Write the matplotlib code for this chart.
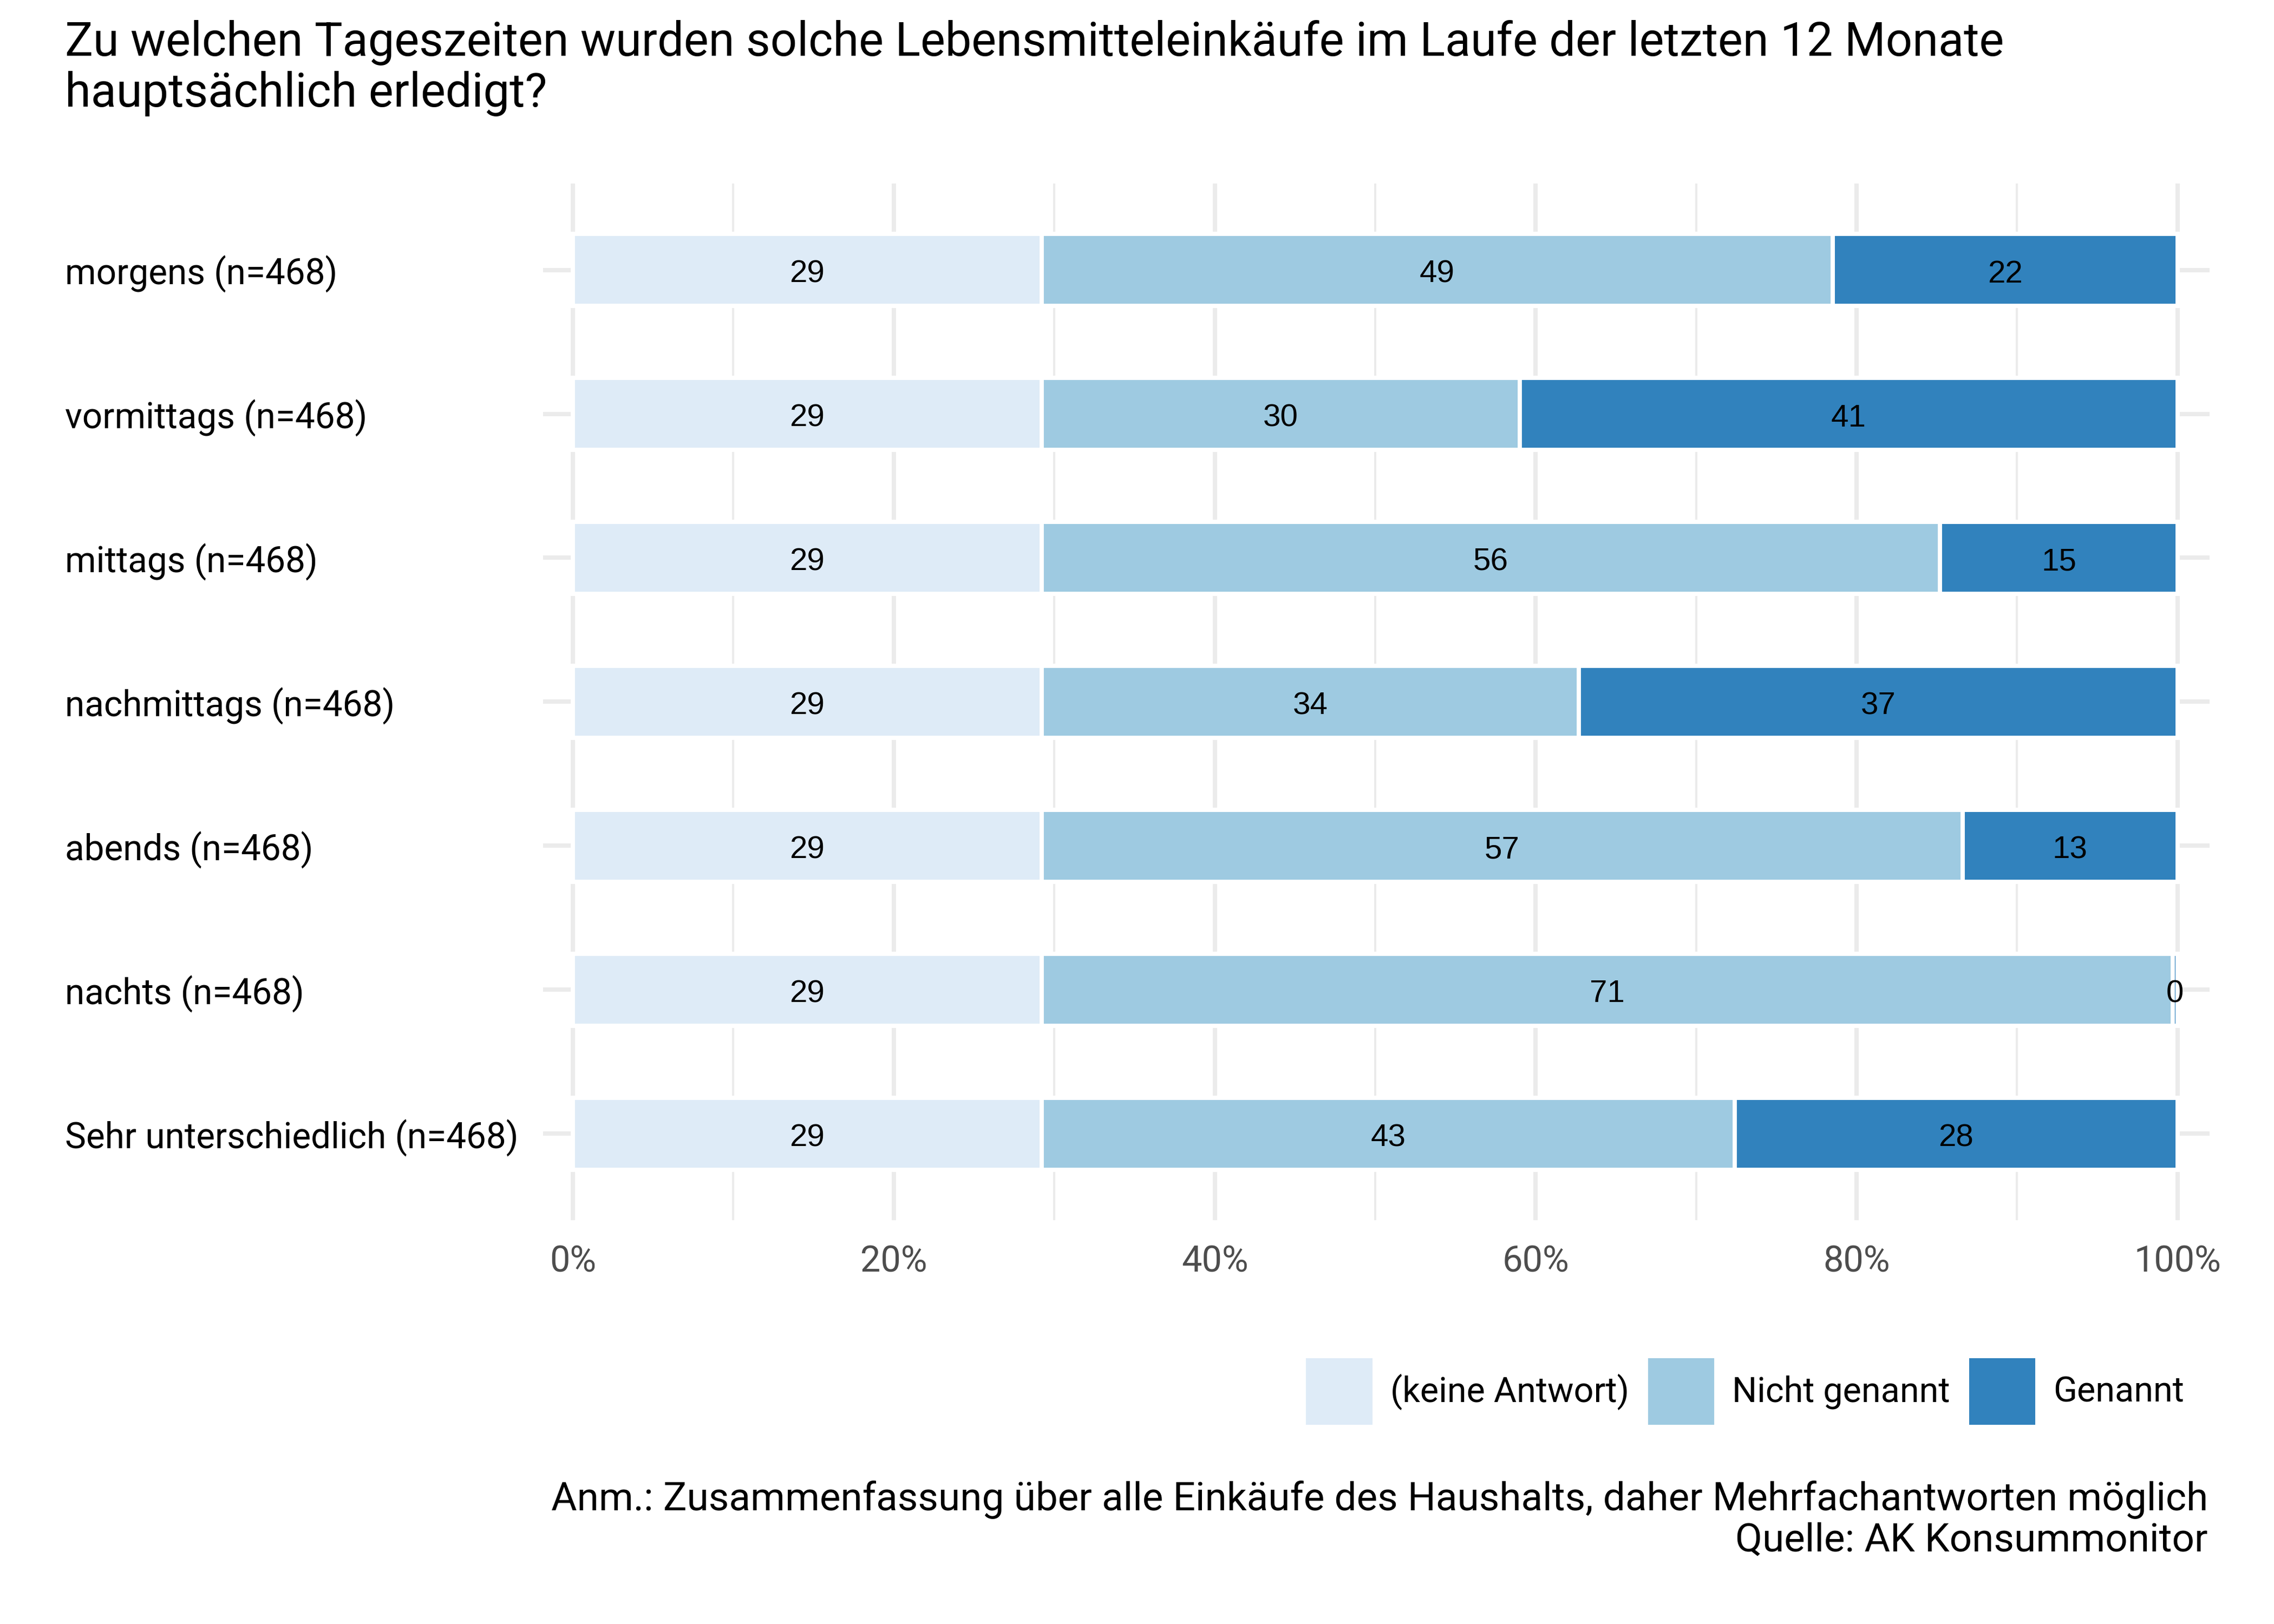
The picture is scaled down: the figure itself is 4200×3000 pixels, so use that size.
import matplotlib
matplotlib.use('Agg')
import matplotlib.pyplot as plt
from matplotlib.patches import Patch

categories = ['morgens (n=468)', 'vormittags (n=468)', 'mittags (n=468)', 'nachmittags (n=468)',
              'abends (n=468)', 'nachts (n=468)', 'Sehr unterschiedlich (n=468)']
keine_antwort = [29.2, 29.2, 29.2, 29.2, 29.2, 29.2, 29.2]
nicht_genannt = [49.3, 29.8, 56.0, 33.5, 57.4, 70.5, 43.2]
genannt = [21.5, 41.0, 14.8, 37.3, 13.4, 0.3, 27.6]
series_names = ['(keine Antwort)', 'Nicht genannt', 'Genannt']
colors = ['#DEEBF7', '#9ECAE1', '#3182BD']
x_ticks = [0, 20, 40, 60, 80, 100]
x_minor = [10, 30, 50, 70, 90]
x_tick_labels = ['0%', '20%', '40%', '60%', '80%', '100%']

title = ('Zu welchen Tageszeiten wurden solche Lebensmitteleinkäufe im Laufe der letzten 12 Monate\n'
         'hauptsächlich erledigt?')
caption = ('Anm.: Zusammenfassung über alle Einkäufe des Haushalts, daher Mehrfachantworten möglich\n'
           'Quelle: AK Konsummonitor')

plt.rcParams['font.family'] = ['Roboto', 'DejaVu Sans']

fig = plt.figure(figsize=(14, 10), dpi=300)
ax = fig.add_axes([0.2388, 0.2487, 0.9717 - 0.2388, 0.887 - 0.2487])

y = list(range(len(categories)))
left = [0] * len(categories)
for vals, name, col in zip([keine_antwort, nicht_genannt, genannt], series_names, colors):
    ax.barh(y, vals, left=left, height=0.5, color=col, edgecolor='white', linewidth=1.9, zorder=3)
    for yi, v, l in zip(y, vals, left):
        # small downward nudge so the digits sit in the visual middle of the bar
        ax.text(l + v / 2, yi + 0.03, f'{int(v + 0.5)}', ha='center', va='center', fontsize=14,
                family='Liberation Sans', color='black', zorder=4)
    left = [a + b for a, b in zip(left, vals)]

ax.set_xlim(-1.86, 102)
ax.set_ylim(6.6, -0.6)
ax.set_xticks(x_ticks, x_tick_labels)
ax.set_xticks(x_minor, minor=True)
ax.set_yticks(y, categories)
for lbl in ax.get_yticklabels():
    lbl.set_horizontalalignment('left')

ax.grid(axis='x', which='major', color='#EBEBEB', linewidth=1.92, zorder=0)
ax.grid(axis='x', which='minor', color='#EBEBEB', linewidth=0.96, zorder=0)
ax.grid(axis='y', which='major', color='#EBEBEB', linewidth=1.92, zorder=0)
ax.set_axisbelow(True)
for s in ax.spines.values():
    s.set_visible(False)
ax.tick_params(axis='both', which='both', length=0)
ax.tick_params(axis='x', labelsize=16, labelcolor='#4D4D4D', pad=11)
ax.tick_params(axis='y', labelsize=15.75, labelcolor='black', pad=212)

handles = [Patch(facecolor=c, edgecolor='none', label=n) for c, n in zip(colors, series_names)]
fig.legend(handles=handles, loc='center right', bbox_to_anchor=(0.9605, 0.1433), ncol=3,
           frameon=False, fontsize=15.5, handlelength=1.9, handleheight=2.55,
           handletextpad=0.51, columnspacing=0.54, borderpad=0, borderaxespad=0)

fig.text(120 / 4200, 1 - 37 / 3000, title, fontsize=20.8, ha='left', va='top', linespacing=1.15)
fig.text(4078 / 4200, 0.0397, caption, fontsize=17.5, ha='right', va='bottom', linespacing=1.1)

fig.savefig('out.png', dpi=300)
plt.close(fig)
